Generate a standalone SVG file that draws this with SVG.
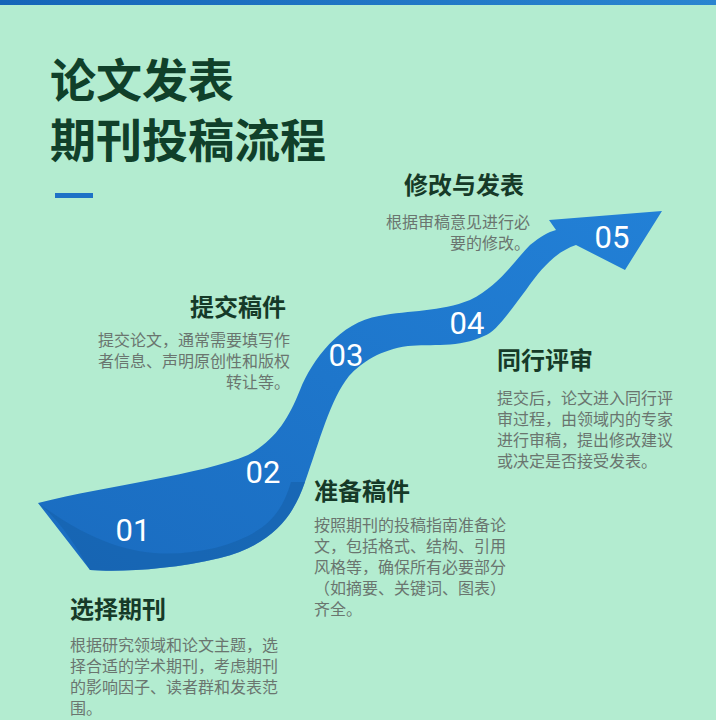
<svg xmlns="http://www.w3.org/2000/svg" width="716" height="720" viewBox="0 0 716 720">
<style>
.t{font-family:"Noto Sans CJK SC","Noto Sans",sans-serif;font-weight:700;fill:#10402a}
.h{font-family:"Noto Sans CJK SC",sans-serif;font-weight:700;font-size:24px;fill:#163a28}
.d{font-family:"Noto Sans CJK SC",sans-serif;font-size:16px;fill:#6a756f}
.n{font-family:"Roboto","Liberation Sans",sans-serif;font-size:31px;fill:#ffffff;text-anchor:middle}
</style>
<defs>
<linearGradient id="g" x1="0" y1="1" x2="1" y2="0">
<stop offset="0" stop-color="#1a6cc0"/><stop offset="1" stop-color="#2280d6"/>
</linearGradient>
<linearGradient id="bar" x1="0" x2="1"><stop offset="0" stop-color="#1565b8"/><stop offset="1" stop-color="#2a85d0"/></linearGradient>
</defs>
<rect width="716" height="720" fill="#b3ecd0"/>
<rect width="716" height="5" fill="url(#bar)"/>
<text class="t" x="50" y="97" font-size="46">论文发表</text>
<text class="t" x="50" y="157" font-size="46">期刊投稿流程</text>
<rect x="55" y="193" width="38" height="5" fill="#1e72c6"/>
<g id="arrow">
<path d="M38,503 C110,485 200,475 248,455 C275,440 288,420 300,390 C312,360 340,322 379,316 C410,310 440,312 470,300 C500,285 515,260 530,245 C540,237 548,232 556,230 L549,220 L662,211 L625,270 L576,245 C555,252 540,270 526,290 C505,318 495,332 484,336 C460,348 430,344 408,346 C380,350 362,362 349,376 C330,400 320,440 305,482 C292,520 270,545 220,558 C170,570 120,572 90,570 Z" fill="url(#g)"/>
<path d="M38,503 C60,520 75,545 90,570 C120,572 170,570 220,558 C270,545 292,520 305,482 L291,482 C280,520 260,535 215,548 C160,560 110,556 38,503 Z" fill="#1560aa" opacity="0.6"/>
<text class="n" x="133" y="541">01</text>
<text class="n" x="263" y="483">02</text>
<text class="n" x="346" y="366">03</text>
<text class="n" x="467" y="334">04</text>
<text class="n" x="612" y="248">05</text>
</g>
<g id="s5">
<text class="h" x="404" y="194">修改与发表</text>
<text class="d" x="530" y="228" text-anchor="end">根据审稿意见进行必</text>
<text class="d" x="530" y="249" text-anchor="end">要的修改。</text>
</g>
<g id="s3">
<text class="h" x="190" y="316">提交稿件</text>
<text class="d" x="290" y="346" text-anchor="end">提交论文，通常需要填写作</text>
<text class="d" x="290" y="367" text-anchor="end">者信息、声明原创性和版权</text>
<text class="d" x="290" y="388" text-anchor="end">转让等。</text>
</g>
<g id="s4">
<text class="h" x="497" y="369">同行评审</text>
<text class="d" x="497" y="404">提交后，论文进入同行评</text>
<text class="d" x="497" y="425">审过程，由领域内的专家</text>
<text class="d" x="497" y="446">进行审稿，提出修改建议</text>
<text class="d" x="497" y="467">或决定是否接受发表。</text>
</g>
<g id="s2">
<text class="h" x="314" y="500">准备稿件</text>
<text class="d" x="314" y="531">按照期刊的投稿指南准备论</text>
<text class="d" x="314" y="552">文，包括格式、结构、引用</text>
<text class="d" x="314" y="573">风格等，确保所有必要部分</text>
<text class="d" x="314" y="594">（如摘要、关键词、图表）</text>
<text class="d" x="314" y="615">齐全。</text>
</g>
<g id="s1">
<text class="h" x="70" y="618">选择期刊</text>
<text class="d" x="70" y="651">根据研究领域和论文主题，选</text>
<text class="d" x="70" y="672">择合适的学术期刊，考虑期刊</text>
<text class="d" x="70" y="693">的影响因子、读者群和发表范</text>
<text class="d" x="70" y="714">围。</text>
</g>
</svg>
